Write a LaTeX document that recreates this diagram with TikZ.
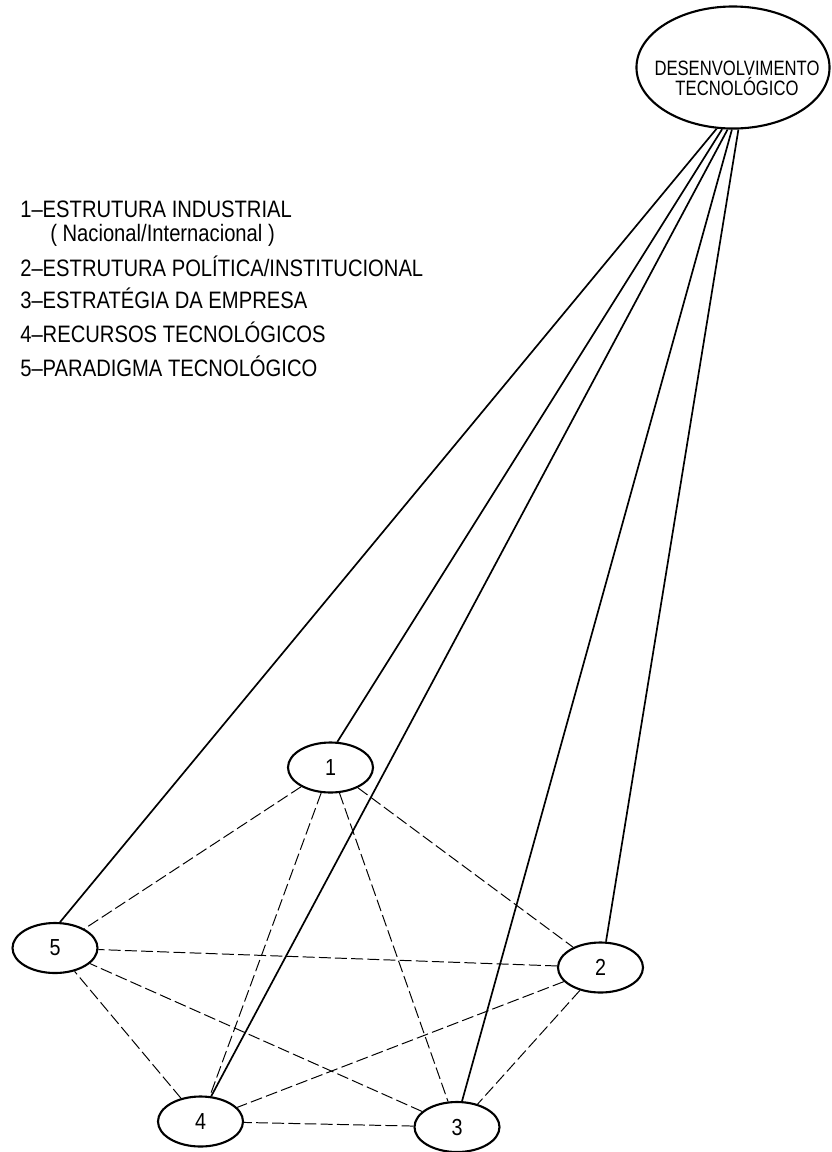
\documentclass[tikz,border=0pt]{standalone}
\usepackage{fontspec}
\setmainfont{Liberation Sans}[FakeStretch=0.85]
\newfontfamily\titulofont{Liberation Sans}[FakeStretch=0.8]
\usetikzlibrary{shapes.geometric}

\begin{document}
\begin{tikzpicture}[x=0.025cm, y=-0.025cm,
    fator/.style={draw, ellipse, line width=1.5pt, inner sep=0pt,
        minimum width=2.125cm, minimum height=1.25cm,
        font=\fontsize{16.5pt}{18pt}\selectfont},
    legenda/.style={anchor=base west, inner sep=0pt,
        font=\fontsize{16.9pt}{18pt}\selectfont},
    ligacao/.style={line width=1.2pt},
    relacao/.style={line width=0.7pt, dash pattern=on 8.5pt off 3pt}]
\useasboundingbox (0,0) rectangle (831,1152);

% objetivo
\node[draw, ellipse, line width=1.5pt, minimum width=4.825cm, minimum height=3.05cm,
    label={[font=\titulofont\fontsize{14.8pt}{14.2pt}\selectfont, align=center,
        xshift=0.1cm, yshift=-0.28cm]center:DESENVOLVIMENTO\\TECNOLÓGICO}] (dt) at (733,67.5) {};

% legenda
\node[legenda] (leg1) at (20,217) {1–ESTRUTURA INDUSTRIAL};
\node[legenda] (leg1b) at (50,241) {( Nacional/Internacional )};
\node[legenda] (leg2) at (20,276) {2–ESTRUTURA POLÍTICA/INSTITUCIONAL};
\node[legenda] (leg3) at (20,308) {3–ESTRATÉGIA DA EMPRESA};
\node[legenda] (leg4) at (20,342) {4–RECURSOS TECNOLÓGICOS};
\node[legenda] (leg5) at (20,376) {5–PARADIGMA TECNOLÓGICO};

% fatores
\node[fator] (n1) at (330.5,767.5) {1};
\node[fator] (n2) at (600.5,967.5) {2};
\node[fator] (n3) at (457,1127) {3};
\node[fator] (n4) at (200.5,1121.5) {4};
\node[fator] (n5) at (55,948) {5};

\draw[ligacao] (dt.255) -- (n5.79);
\draw[ligacao] (dt.260) -- (n1.75);
\draw[ligacao] (dt.265) -- (n4.67);
\draw[ligacao] (dt.269) -- (n3.79);
\draw[ligacao] (dt.275) -- (n2.78);

\foreach \a/\b in {1/2,1/3,1/4,1/5,2/3,2/4,2/5,3/4,3/5,4/5}
    \draw[relacao] (n\a) -- (n\b);
\end{tikzpicture}
\end{document}
